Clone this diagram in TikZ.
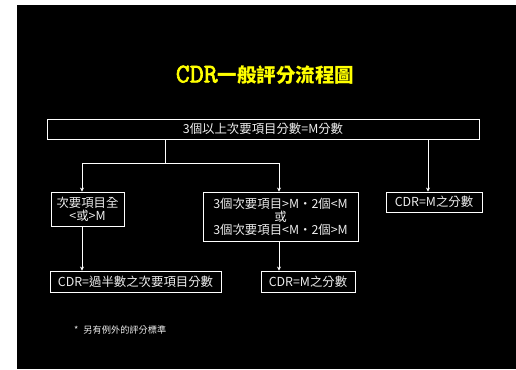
\documentclass[tikz,border=0pt]{standalone}
\usepackage{fontspec}
\setmainfont{Noto Sans CJK TC}
\newfontfamily\cjktitle{Noto Sans CJK TC}
\newfontfamily\monotitle{Latin Modern Mono}[FakeBold=2.5]
\usetikzlibrary{arrows.meta}
\definecolor{txt}{HTML}{EEEEEE}
\definecolor{ttl}{HTML}{FFFF00}
\tikzset{
  box/.style={draw=white, line width=0.8pt, text=txt, inner sep=0pt, align=center, font=\fontsize{12.4}{13}\selectfont},
  conn/.style={draw=white, line width=0.8pt},
  arr/.style={conn, -{Stealth[length=4pt,width=4pt]}}
}
\begin{document}
\begin{tikzpicture}[x=1pt,y=-1pt]
\useasboundingbox (0,0) rectangle (516,369);
\fill[white] (0,0) rectangle (516,369);
\fill[black] (17,5) rectangle (516,369);
\node[text=ttl, inner sep=0pt] (title) at (265,75) {{\monotitle\fontsize{27}{27}\selectfont CDR}{\cjktitle\bfseries\fontsize{19.5}{20}\selectfont 一般評分流程圖}};
\node[box, minimum width=432pt, minimum height=20pt] (top) at (263,129) {3個以上次要項目分數=M分數};
\node[box, minimum width=73pt, minimum height=34pt] (left) at (87.5,209) {次要項目全\\<或>M};
\node[box, minimum width=155pt, minimum height=49pt] (mid) at (280.5,216.5) {3個次要項目>M‧2個<M\\或\\3個次要項目<M‧2個>M};
\node[box, minimum width=96pt, minimum height=20pt] (right) at (434,202) {CDR=M之分數};
\node[box, minimum width=171pt, minimum height=21pt] (bl) at (135.5,281.5) {CDR=過半數之次要項目分數};
\node[box, minimum width=94pt, minimum height=21pt] (bm) at (308,281.5) {CDR=M之分數};
\node[text=txt, anchor=west, inner sep=0pt, font=\fontsize{9.2}{10}\selectfont] (note) at (74,330) {*\hspace{5pt}另有例外的評分標準};
\coordinate (xT) at (165,0);
\coordinate (xR) at (428,0);
\coordinate (jL) at (82,163);
\coordinate (jM) at (279,163);
\draw[conn] (top.south -| xT) -- (xT |- jL);
\draw[conn] (jL) -- (jM);
\draw[arr] (jL) -- (jL |- left.north);
\draw[arr] (jM) -- (jM |- mid.north);
\draw[arr] (top.south -| xR) -- (xR |- right.north);
\draw[arr] (left.south -| jL) -- (jL |- bl.north);
\draw[arr] (mid.south -| jM) -- (jM |- bm.north);
\end{tikzpicture}
\end{document}
